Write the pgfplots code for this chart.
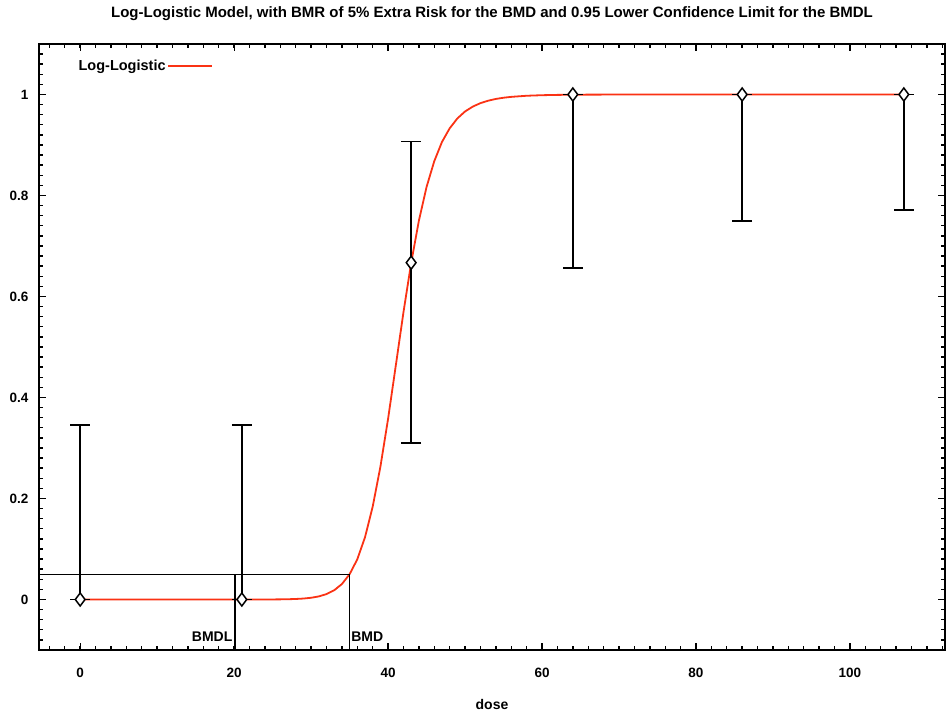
\documentclass[border=0pt]{standalone}
\usepackage{pgfplots}
\pgfplotsset{compat=1.18}
\usepackage{pgfplotstable}
\usepackage{fontspec}
\setmainfont{Liberation Sans}
\definecolor{fitred}{RGB}{250,50,20}
\pgfplotstableread{
x y plus minus
0 0 0.346 0
21 0 0.346 0
43 0.667 0.240 0.357
64 1 0 0.344
86 1 0 0.251
107 1 0 0.229
}\obsdata
\begin{document}
\begin{tikzpicture}
\useasboundingbox (-39bp,-65bp) rectangle (908bp,650bp);
\begin{axis}[
  at={(0,0)}, anchor=south west,
  scale only axis, width=906bp, height=606bp,
  xmin=-5.35, xmax=112.35, ymin=-0.1, ymax=1.1,
  xtick={-4,-2,...,112}, ytick={-0.08,-0.06,...,1.09},
  xticklabels={}, yticklabels={},
  tick align=inside, tick pos=both,
  major tick length=4bp,
  tick style={black, line width=1.4bp},
  axis line style={draw=none},
]
\addplot[draw=none, forget plot] coordinates {(0,0)};
\end{axis}
\begin{axis}[
  at={(0,0)}, anchor=south west,
  scale only axis, width=906bp, height=606bp,
  xmin=-5.35, xmax=112.35, ymin=-0.1, ymax=1.1,
  xtick={0,20,40,60,80,100}, ytick={0,0.2,0.4,0.6,0.8,1},
  yticklabels={0,0.2,0.4,0.6,0.8,1},
  tick align=inside, tick pos=both,
  major tick length=7bp,
  tick style={black, line width=1.2bp},
  axis line style={line width=1.3bp},
  /pgf/number format/assume math mode=true,
  tick label style={font=\fontsize{13.5bp}{15bp}\selectfont\bfseries},
  xticklabel style={anchor=center, yshift=-23bp},
  yticklabel style={anchor=east, xshift=-7bp},
  legend style={at={(axis description cs:0.038,0.98)}, anchor=north west, draw=none, fill=none,
    font=\fontsize{14.5bp}{16bp}\selectfont\bfseries},
  legend plot pos=right,
  legend image code/.code={\draw[#1] (0bp,0bp) -- (44bp,0bp);},
  clip=false,
]
\addplot[fitred, line width=1.8bp] coordinates {
(0,0) (5,0) (10,0) (15,0) (20,0.000003) (22,0.000014) (24,0.00007) (25,0.00014) (26,0.00028) (27,0.00054) (28,0.00102) (29,0.00189) (30,0.00344) (31,0.00613) (32,0.01067) (33,0.0183) (34,0.0306) (35,0.05) (36,0.0796) (37,0.1232) (38,0.1838) (39,0.2627) (40,0.3578) (41,0.4631) (42,0.569) (43,0.6666) (44,0.750) (45,0.817) (46,0.868) (47,0.906) (48,0.933) (49,0.9526) (50,0.9664) (51,0.976) (52,0.9829) (53,0.9877) (54,0.9912) (55,0.9936) (56,0.9953) (58,0.9975) (60,0.99861) (62,0.99922) (65,0.99966) (70,0.9999) (80,1) (90,1) (100,1) (107,1)
};
\addlegendentry{Log-Logistic\hspace{5bp}}
\addplot[forget plot, black, line width=1.6bp, only marks, mark=none,
  error bars/.cd, y dir=both, y explicit,
  error bar style={line width=1.6bp},
  error mark options={black, line width=1.6bp, mark size=10bp, rotate=90}]
  table[x=x, y=y, y error plus=plus, y error minus=minus] {\obsdata};
\addplot[forget plot, only marks, mark=diamond*, mark size=6.5bp,
  mark options={draw=black, fill=white, line width=1.5bp}]
  table[x=x, y=y] {\obsdata};
\addplot[forget plot, black, line width=0.9bp] coordinates {(-5.35,0.05) (35,0.05)};
\addplot[forget plot, black, line width=0.9bp] coordinates {(35,-0.1) (35,0.05)};
\addplot[forget plot, black, line width=1.5bp] coordinates {(20.1,-0.1) (20.1,0.05)};
\node[anchor=east, inner sep=0pt, font=\fontsize{14bp}{15bp}\selectfont\bfseries] at (axis cs:19.8,-0.073) {BMDL};
\node[anchor=west, inner sep=0pt, font=\fontsize{14bp}{15bp}\selectfont\bfseries] at (axis cs:35.2,-0.073) {BMD};
\end{axis}
\node[font=\fontsize{15bp}{16bp}\selectfont\bfseries] at (453bp,636bp) {Log-Logistic Model, with BMR of 5\% Extra Risk for the BMD and 0.95 Lower Confidence Limit for the BMDL};
\node[font=\fontsize{14bp}{15bp}\selectfont\bfseries] at (453bp,-54bp) {dose};
\end{tikzpicture}
\end{document}
